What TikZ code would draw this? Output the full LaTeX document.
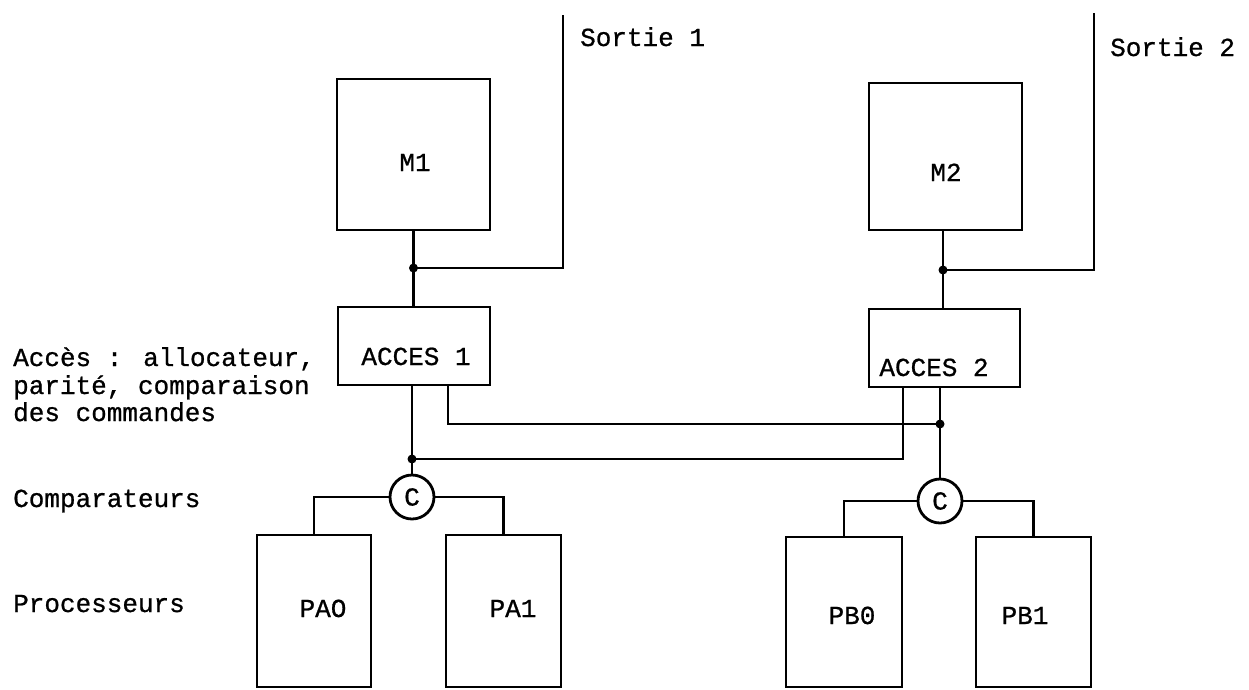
\documentclass[tikz,border=0pt]{standalone}
\usepackage{fontspec}
\setmainfont[FakeBold=0.8]{Liberation Mono}
\begin{document}
\begin{tikzpicture}[x=1pt,y=-1pt,
  wire/.style={line width=2.8pt, line join=miter},
  box/.style={draw, line width=2.8pt, inner sep=0pt, rectangle},
  cmp/.style={draw, circle, line width=2.8pt, minimum size=44pt, inner sep=0pt, font=\fontsize{26}{28}\selectfont},
  lbl/.style={anchor=base, inner sep=0pt, font=\fontsize{26}{28}\selectfont},
  side/.style={anchor=base west, inner sep=0pt, font=\fontsize{26}{28}\selectfont},
  jdot/.style={fill, circle, inner sep=0pt, minimum size=9pt}]
\useasboundingbox (0,0) rectangle (1249,689);
% boxes
\node[box, minimum width=153pt, minimum height=151pt] (M1) at (413.5,154.5) {};
\node[box, minimum width=152pt, minimum height=78pt] (A1) at (414,346) {};
\node[box, minimum width=153pt, minimum height=147pt] (M2) at (945.5,156.5) {};
\node[box, minimum width=151pt, minimum height=78pt] (A2) at (944.5,348) {};
\node[box, minimum width=114pt, minimum height=152pt] (PA0) at (314,611) {};
\node[box, minimum width=115pt, minimum height=152pt] (PA1) at (503.5,611) {};
\node[box, minimum width=116pt, minimum height=150pt] (PB0) at (844,612) {};
\node[box, minimum width=115pt, minimum height=150pt] (PB1) at (1033.5,612) {};
% comparators
\node[cmp] (C1) at (412,497) {C};
\node[cmp] (C2) at (940,501) {C};
% box labels
\node[lbl] (tM1) at (415,171) {M1};
\node[lbl] (tM2) at (946,181) {M2};
\node[lbl] (tA1) at (416,365) {ACCES 1};
\node[lbl] (tA2) at (934,376) {ACCES 2};
\node[lbl] (tPA0) at (323,617) {PAO};
\node[lbl] (tPA1) at (513,617) {PA1};
\node[lbl] (tPB0) at (852,624) {PB0};
\node[lbl] (tPB1) at (1025,624) {PB1};
% side labels
\node[side] (s1) at (580,46) {Sortie 1};
\node[side] (s2) at (1110,56) {Sortie 2};
\node[side] (l1) at (13,366) {Accès : allocateur,};
\node[side] (l2) at (13,394) {parité, comparaison};
\node[side] (l3) at (13,421) {des commandes};
\node[side] (l4) at (13,507) {Comparateurs};
\node[side] (l5) at (13,612) {Processeurs};
% coordinates
\coordinate (j1) at (413.5,268);
\coordinate (o1b) at (563,268);
\coordinate (o1t) at (563,15);
\coordinate (j2) at (943,270);
\coordinate (o2b) at (1094,270);
\coordinate (o2t) at (1094,13);
\coordinate (j3) at (412,459);
\coordinate (j4) at (940,424);
\coordinate (a1r) at (448,424);
\coordinate (a2l) at (903,459);
% connectors
\draw[wire] (M1.south) -- (M1.south |- A1.north);
\draw[wire] (o1t) -- (o1b) -- (j1);
\draw[wire] (M2.south -| j2) -- (j2 |- A2.north);
\draw[wire] (o2t) -- (o2b) -- (j2);
\draw[wire] (j3 |- A1.south) -- (C1.north);
\draw[wire] (a1r |- A1.south) -- (a1r) -- (j4);
\draw[wire] (j3) -- (a2l) -- (a2l |- A2.south);
\draw[wire] (j4 |- A2.south) -- (C2.north);
\draw[wire] (C1.west) -| (PA0.north);
\draw[wire] (C1.east) -| (PA1.north);
\draw[wire] (C2.west) -| (PB0.north);
\draw[wire] (C2.east) -| (PB1.north);
% junction dots
\node[jdot] (d1) at (j1) {};
\node[jdot] (d2) at (j2) {};
\node[jdot] (d3) at (j3) {};
\node[jdot] (d4) at (j4) {};
\end{tikzpicture}
\end{document}
